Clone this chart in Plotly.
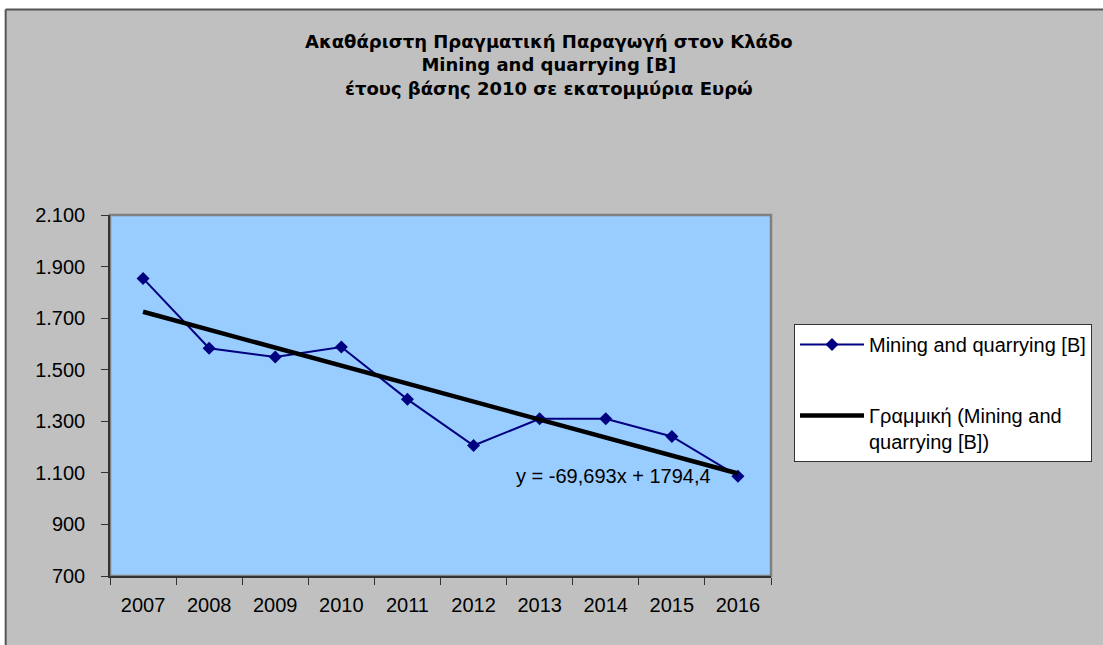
import plotly.graph_objects as go

# data
years = ["2007", "2008", "2009", "2010", "2011", "2012", "2013", "2014", "2015", "2016"]
production = [1854, 1583, 1549, 1588, 1385, 1206, 1310, 1310, 1241, 1087]

# linear trendline as printed on the chart
slope = -69.693
intercept = 1794.4
trend = [intercept + slope * (i + 1) for i in range(len(years))]

series_name = "Mining and quarrying [B]"
trend_name = "Γραμμική (Mining and<br>quarrying [B])"
equation = "y = -69,693x + 1794,4"

title_lines = [
    "Ακαθάριστη Πραγματική Παραγωγή στον Κλάδο",
    "Mining and quarrying [B]",
    "έτους βάσης 2010 σε εκατομμύρια Ευρώ",
]

font_family = "Arial, Liberation Sans, sans-serif"

# plot area in pixels: x 110..772, y 215..576
def px(x):
    return (x - 110) / 662

def py(y):
    return (576 - y) / 361

fig = go.Figure()
fig.add_trace(go.Scatter(
    x=years, y=production,
    mode="lines+markers",
    name=series_name,
    line=dict(color="#000080", width=2),
    marker=dict(symbol="diamond", size=10, color="#000080"),
    legendgroup="a",
))
fig.add_trace(go.Scatter(
    x=years, y=trend,
    mode="lines",
    name=trend_name,
    line=dict(color="black", width=4.5),
    legendgroup="b",
))

fig.add_annotation(
    x=8.63, y=1088, xref="x", yref="y",
    text=equation, showarrow=False,
    xanchor="right", yanchor="middle",
    font=dict(size=20, color="black", family=font_family),
)

fig.add_annotation(
    x=px(550), y=py(65), xref="paper", yref="paper",
    text="<br>".join("<b>" + t + "</b>" for t in title_lines),
    showarrow=False, xanchor="center", yanchor="middle",
    font=dict(size=18, color="black", family="DejaVu Sans, sans-serif"),
)

# frame of the chart area and plot area border
fig.add_shape(type="rect", xref="paper", yref="paper",
              x0=-0.2, x1=1.6, y0=py(9.5), y1=1.7,
              fillcolor="white", line=dict(width=0), layer="below")
fig.add_shape(type="rect", xref="paper", yref="paper",
              x0=-0.2, x1=px(5), y0=-0.3, y1=1.7,
              fillcolor="white", line=dict(width=0), layer="below")
fig.add_shape(type="line", xref="paper", yref="paper",
              x0=px(5.5), x1=1.6, y0=py(9.5), y1=py(9.5),
              line=dict(color="#555555", width=2), layer="below")
fig.add_shape(type="line", xref="paper", yref="paper",
              x0=px(5.5), x1=px(5.5), y0=-0.3, y1=py(9.5),
              line=dict(color="#555555", width=2), layer="below")
fig.add_shape(type="rect", xref="paper", yref="paper",
              x0=0, x1=1, y0=0, y1=1,
              line=dict(color="#808080", width=2.5), layer="below")

fig.update_layout(
    width=1103, height=645,
    margin=dict(l=110, r=331, t=215, b=69),
    paper_bgcolor="#C0C0C0",
    plot_bgcolor="#99CCFF",
    separators=",.",
    font=dict(family=font_family, size=20, color="black"),
    showlegend=True,
    legend=dict(
        x=px(794), y=py(324),
        xanchor="left", yanchor="top",
        bgcolor="white", bordercolor="#333333", borderwidth=1,
        font=dict(size=20, color="black"),
        traceorder="grouped", tracegroupgap=42,
        itemwidth=64, valign="top",
    ),
)
fig.update_xaxes(
    type="category", range=[-0.5, 9.5],
    showline=True, linecolor="#333333", linewidth=1.5,
    ticks="outside", tickson="boundaries", ticklen=7, tickcolor="#333333",
    showgrid=False, zeroline=False,
    ticklabelstandoff=10,
)
fig.update_yaxes(
    range=[700, 2100], dtick=200, tick0=700,
    tickformat=",d",
    showline=True, linecolor="#333333", linewidth=1.5,
    ticks="outside", ticklen=7, tickcolor="#333333",
    showgrid=False, zeroline=False,
    ticklabelstandoff=12,
)

# the page body has a default 8px margin; drop it so the chart sits at 0,0
fig.write_html("out.html", config={"displayModeBar": False},
               post_script="document.body.style.margin='0';")
